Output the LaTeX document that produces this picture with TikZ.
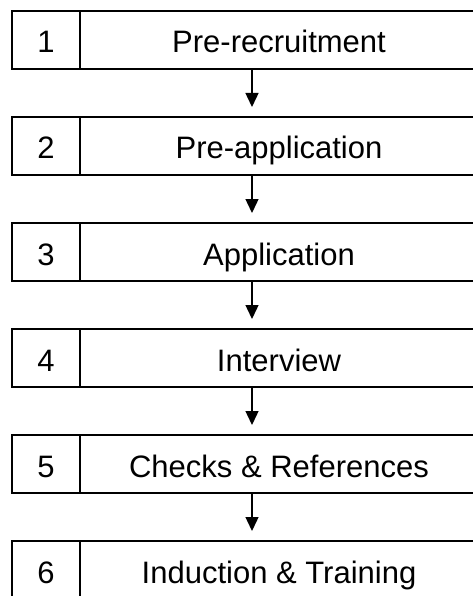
\documentclass[tikz,border=0pt]{standalone}
\usepackage{fontspec}
\setmainfont{Liberation Sans}
\usetikzlibrary{arrows.meta,positioning}

\begin{document}
\begin{tikzpicture}[x=1pt, y=-1pt, >={Triangle[length=14pt, width=13pt]},
    font=\fontsize{31}{36}\selectfont,
    numbox/.style={draw, line width=2pt, outer sep=0pt, minimum width=68pt, minimum height=58pt, inner sep=0pt, text height=30pt, text depth=4pt},
    stagebox/.style={draw, line width=2pt, outer sep=0pt, minimum width=398pt, minimum height=58pt, inner sep=0pt, text height=30pt, text depth=4pt},
    flow/.style={->, line width=1.4pt, shorten >=10pt}]
    \useasboundingbox (0,0) rectangle (473,596);
    % stage boxes, number on the left
    \node[numbox] (n1) at (46,40) {1};
    \node[stagebox, right=0pt of n1] (s1) {Pre-recruitment};
    \node[numbox] (n2) at (46,146) {2};
    \node[stagebox, right=0pt of n2] (s2) {Pre-application};
    \node[numbox] (n3) at (46,252) {3};
    \node[stagebox, right=0pt of n3] (s3) {Application};
    \node[numbox] (n4) at (46,358) {4};
    \node[stagebox, right=0pt of n4] (s4) {Interview};
    \node[numbox] (n5) at (46,464) {5};
    \node[stagebox, right=0pt of n5] (s5) {Checks \& References};
    \node[numbox] (n6) at (46,570) {6};
    \node[stagebox, right=0pt of n6] (s6) {Induction \& Training};
    % arrows between stages
    \draw[flow] ([xshift=-27pt]s1.south) -- ([xshift=-27pt]s2.north);
    \draw[flow] ([xshift=-27pt]s2.south) -- ([xshift=-27pt]s3.north);
    \draw[flow] ([xshift=-27pt]s3.south) -- ([xshift=-27pt]s4.north);
    \draw[flow] ([xshift=-27pt]s4.south) -- ([xshift=-27pt]s5.north);
    \draw[flow] ([xshift=-27pt]s5.south) -- ([xshift=-27pt]s6.north);
\end{tikzpicture}
\end{document}
